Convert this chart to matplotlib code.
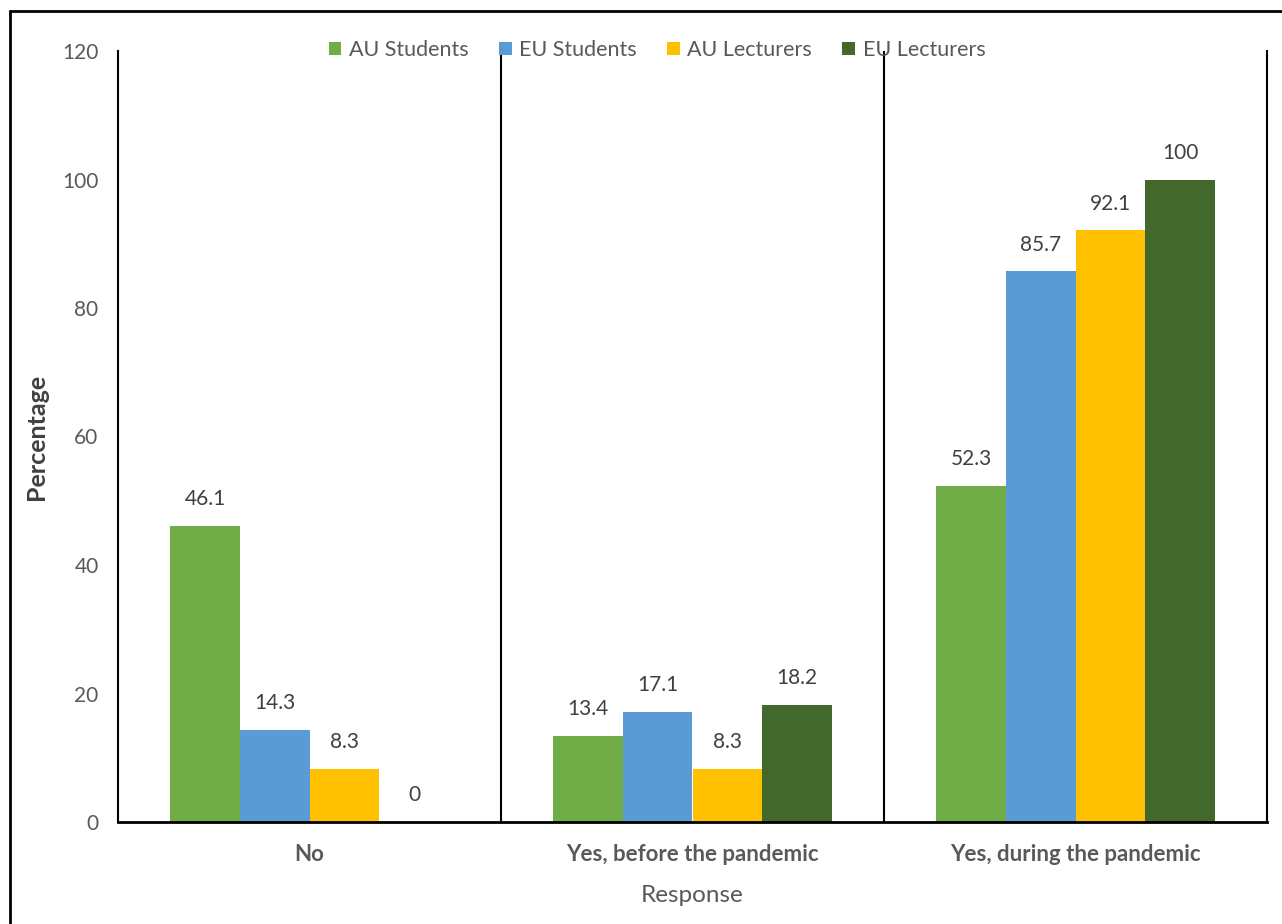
import numpy as np
import matplotlib.pyplot as plt
from matplotlib.patches import Rectangle

# Chart data
categories = ["No", "Yes, before the pandemic", "Yes, during the pandemic"]
groups = ["AU Students", "EU Students", "AU Lecturers", "EU Lecturers"]
au_students = [46.1, 13.4, 52.3]
eu_students = [14.3, 17.1, 85.7]
au_lecturers = [8.3, 8.3, 92.1]
eu_lecturers = [0, 18.2, 100]
colors = ["#70AD47", "#5B9BD5", "#FFC000", "#43682B"]

plt.rcParams['font.family'] = ['Lato', 'DejaVu Sans']

fig = plt.figure(figsize=(12.82, 9.24), dpi=100)
ax = fig.add_axes([118/1282, 1 - 822/924, (1267 - 118)/1282, (822 - 51)/924])

x = np.arange(len(categories))
width = 1 / 5.5
series = [au_students, eu_students, au_lecturers, eu_lecturers]
for i, vals in enumerate(series):
    pos = x + (i - 1.5) * width
    bars = ax.bar(pos, vals, width, color=colors[i], label=groups[i], zorder=2)
    for b, v in zip(bars, vals):
        ax.annotate(f"{v:g}", (b.get_x() + b.get_width() / 2, v),
                    xytext=(0, 12), textcoords='offset points',
                    ha='center', va='bottom', fontsize=15, color='#404040')

ax.set_xlim(-0.5, 2.5)
ax.set_ylim(0, 120)
ax.set_yticks(np.arange(0, 121, 20))
ax.set_xticks(x)
ax.set_xticklabels(categories, fontweight='bold', fontsize=16, color='#595959')
ax.tick_params(axis='y', length=0, pad=14, labelsize=15, labelcolor='#595959')
ax.tick_params(axis='x', length=0, pad=16)

# category separators
for sep in [0.5, 1.5]:
    ax.axvline(sep, color='black', lw=1.5, zorder=3)

ax.spines['top'].set_visible(False)
ax.spines['left'].set_linewidth(1.5)
ax.spines['right'].set_linewidth(1.5)
ax.spines['bottom'].set_linewidth(2)

ax.set_ylabel("Percentage", fontsize=18, fontweight='bold', color='#404040', labelpad=10)
ax.set_xlabel("Response", fontsize=17.5, color='#595959', labelpad=14)

leg = fig.legend(loc='center', bbox_to_anchor=(657/1282, 1 - 50/924), ncol=4,
                 frameon=False, fontsize=15.5, handlelength=0.6, handleheight=0.6,
                 handletextpad=0.35, columnspacing=1.4, labelcolor='#595959')

# outer chart frame
fig.patches.append(Rectangle((10/1282, -0.1), 1.2, 1 - 11/924 + 0.1,
                             transform=fig.transFigure, fill=False,
                             edgecolor='black', lw=2))

fig.savefig("out.png", dpi=100)
